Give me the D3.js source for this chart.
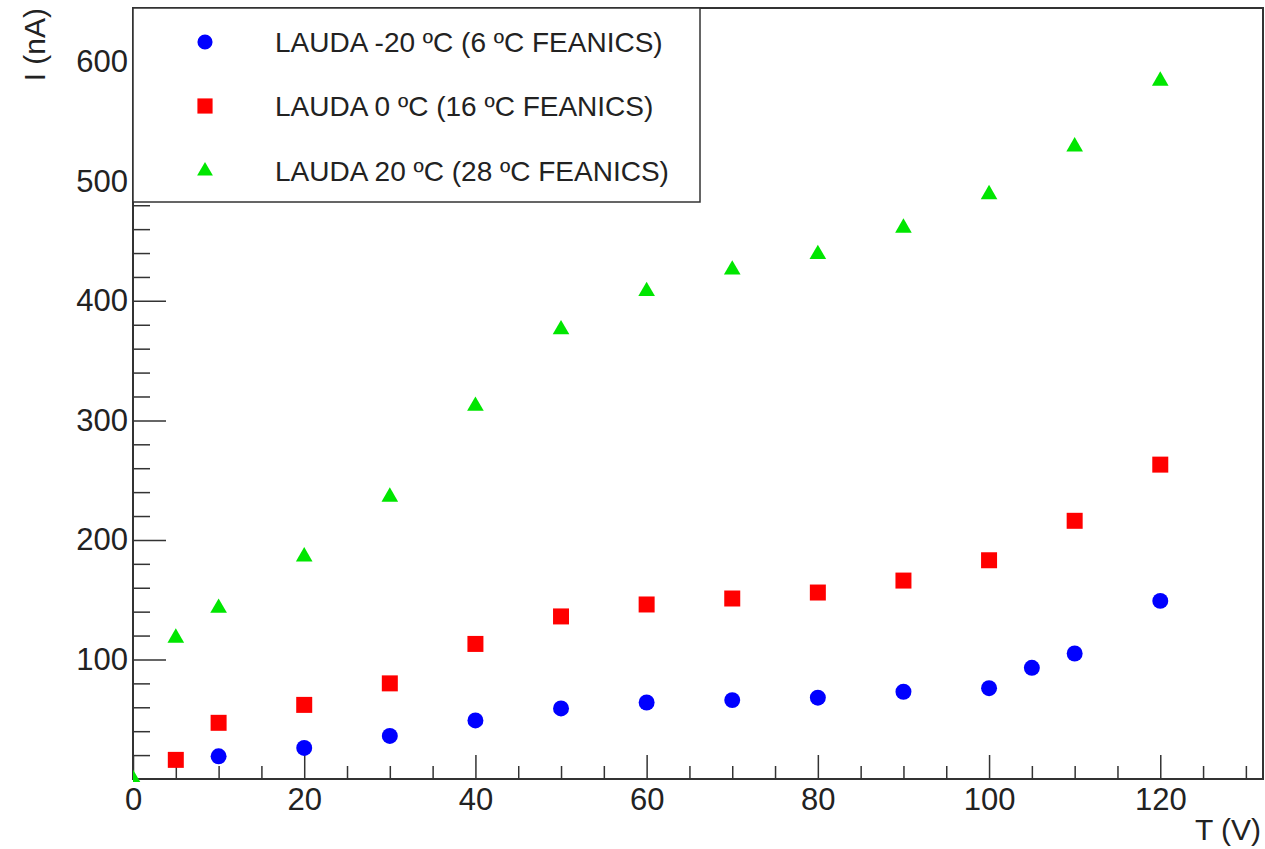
<!DOCTYPE html>
<html>
<head>
<meta charset="utf-8">
<script src="https://cdn.jsdelivr.net/npm/d3@7"></script>
<style>
  html, body { margin: 0; padding: 0; background: #fff; }
</style>
</head>
<body>
<div id="chart"></div>
<script>
const voltsBlue = [10, 20, 30, 40, 50, 60, 70, 80, 90, 100, 105, 110, 120];
const currentBlue = [19, 26, 36, 49, 59, 64, 66, 68, 73, 76, 93, 105, 149];

const voltsRed = [5, 10, 20, 30, 40, 50, 60, 70, 80, 90, 100, 110, 120];
const currentRed = [16, 47, 62, 80, 113, 136, 146, 151, 156, 166, 183, 216, 263];

const voltsGreen = [0, 5, 10, 20, 30, 40, 50, 60, 70, 80, 90, 100, 110, 120];
const currentGreen = [0, 118, 143, 186, 236, 312, 376, 408, 426, 439, 461, 489, 529, 584];

const seriesNames = [
  "LAUDA -20 ºC (6 ºC FEANICS)",
  "LAUDA 0 ºC (16 ºC FEANICS)",
  "LAUDA 20 ºC (28 ºC FEANICS)",
];

const xMajorTicks = [0, 20, 40, 60, 80, 100, 120];
const yMajorTicks = [100, 200, 300, 400, 500, 600];

const width = 1265;
const height = 849;
const frame = { left: 133, right: 1263, top: 8, bottom: 779 };

const textColor = "#222";
const axisColor = "#333";
const fontFamily = "'Liberation Sans', Arial, Helvetica, sans-serif";

const svg = d3
  .select("#chart")
  .append("svg")
  .attr("width", width)
  .attr("height", height)
  .style("font-family", fontFamily);

const x = d3.scaleLinear().domain([0, 132]).range([frame.left, frame.right]);
const y = d3.scaleLinear().domain([0, 645]).range([frame.bottom, frame.top]);

// minor ticks
const xMinor = d3.range(0, 131, 5).filter((v) => v % 20 !== 0);
const yMinor = d3.range(20, 645, 20).filter((v) => v % 100 !== 0);

function styleAxis(g) {
  g.select(".domain").remove();
  g.selectAll(".tick line").attr("stroke", axisColor).attr("stroke-width", 1.5);
  g.selectAll(".tick text")
    .attr("fill", textColor)
    .attr("font-size", "31px")
    .attr("font-family", fontFamily);
}

svg
  .append("g")
  .attr("transform", `translate(0,${frame.bottom})`)
  .call(d3.axisBottom(x).tickValues(xMinor).tickSize(-13).tickFormat(""))
  .call(styleAxis);

svg
  .append("g")
  .attr("transform", `translate(0,${frame.bottom})`)
  .call(d3.axisBottom(x).tickValues(xMajorTicks).tickSize(-24).tickPadding(9).tickFormat(d3.format("d")))
  .call(styleAxis);

svg
  .append("g")
  .attr("transform", `translate(${frame.left},0)`)
  .call(d3.axisLeft(y).tickValues(yMinor).tickSize(-17).tickFormat(""))
  .call(styleAxis);

svg
  .append("g")
  .attr("transform", `translate(${frame.left},0)`)
  .call(d3.axisLeft(y).tickValues(yMajorTicks).tickSize(-33).tickPadding(5).tickFormat(d3.format("d")))
  .call(styleAxis);

// frame
svg
  .append("rect")
  .attr("x", frame.left)
  .attr("y", frame.top)
  .attr("width", frame.right - frame.left)
  .attr("height", frame.bottom - frame.top)
  .attr("fill", "none")
  .attr("stroke", axisColor)
  .attr("stroke-width", 2);

svg
  .append("clipPath")
  .attr("id", "frame-clip")
  .append("rect")
  .attr("x", frame.left)
  .attr("y", frame.top)
  .attr("width", frame.right - frame.left)
  .attr("height", frame.bottom - frame.top + 3);

const series = [
  { name: seriesNames[0], xs: voltsBlue, ys: currentBlue, color: "#0000ff", symbol: d3.symbolCircle, size: 200 },
  { name: seriesNames[1], xs: voltsRed, ys: currentRed, color: "#ff0000", symbol: d3.symbolSquare, size: 256 },
  { name: seriesNames[2], xs: voltsGreen, ys: currentGreen, color: "#00e600", symbol: d3.symbolTriangle, size: 120 },
];

const plot = svg.append("g").attr("clip-path", "url(#frame-clip)");

series.forEach((s) => {
  const sym = d3.symbol().type(s.symbol).size(s.size);
  plot
    .append("g")
    .selectAll("path")
    .data(s.xs.map((v, i) => [v, s.ys[i]]))
    .join("path")
    .attr("transform", (d) => `translate(${x(d[0])},${y(d[1])})`)
    .attr("d", sym)
    .attr("fill", s.color);
});

// legend
const legend = svg.append("g");
legend
  .append("rect")
  .attr("x", frame.left)
  .attr("y", frame.top)
  .attr("width", 700 - frame.left)
  .attr("height", 202 - frame.top)
  .attr("fill", "#fff")
  .attr("stroke", axisColor)
  .attr("stroke-width", 1.5);

const legendRows = [42, 106, 171];
series.forEach((s, i) => {
  legend
    .append("path")
    .attr("transform", `translate(205,${legendRows[i]})`)
    .attr("d", d3.symbol().type(s.symbol).size(s.size * 0.9))
    .attr("fill", s.color);
  legend
    .append("text")
    .attr("x", 275)
    .attr("y", legendRows[i])
    .attr("dominant-baseline", "central")
    .attr("font-size", "28px")
    .attr("fill", textColor)
    .text(s.name);
});

// axis titles
svg
  .append("text")
  .attr("transform", `translate(45,${frame.top}) rotate(-90)`)
  .attr("text-anchor", "end")
  .attr("font-size", "30px")
  .attr("fill", textColor)
  .text("I (nA)");

svg
  .append("text")
  .attr("x", 1261)
  .attr("y", 840)
  .attr("text-anchor", "end")
  .attr("font-size", "30px")
  .attr("fill", textColor)
  .text("T (V)");
</script>
</body>
</html>
